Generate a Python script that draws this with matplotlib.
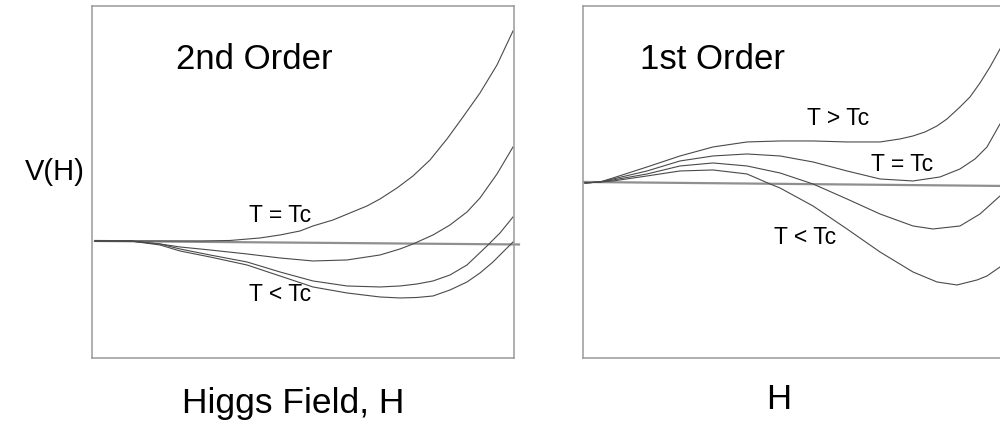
import matplotlib
matplotlib.use("Agg")
import matplotlib.pyplot as plt

plt.rcParams['font.family'] = ['Liberation Sans', 'DejaVu Sans']

# ---- 2nd order panel (H, V, arbitrary units) ----
h2_tc = [3, 58, 108, 138, 168, 188, 208, 221, 241, 275, 288, 305, 321, 338, 355, 371, 388, 405, 421]
v2_tc = [0, 0, 0, 0.5, 3, 6, 10, 15, 21, 35, 42, 53, 65, 81, 102, 124, 148, 176, 210]

h2_a = [3, 38, 68, 88, 118, 155, 188, 221, 255, 288, 308, 321, 341, 358, 375, 388, 405, 421]
v2_a = [0, 0, -3, -6, -9, -13, -17, -20, -19, -14, -8, -3, 6, 16, 29, 43, 67, 94]

h2_b = [3, 38, 68, 88, 118, 155, 188, 221, 255, 288, 308, 325, 341, 358, 375, 395, 408, 421]
v2_b = [0, 0, -3, -8, -14, -21, -31, -40, -45, -46, -45, -43, -40, -34, -24, -5, 8, 24]

h2_c = [3, 38, 68, 88, 118, 155, 188, 221, 255, 288, 308, 325, 341, 358, 375, 388, 401, 421]
v2_c = [0, 0, -4, -10, -16, -24, -35, -46, -52, -56, -57, -56.5, -55, -49, -41, -32, -21, -1]

h2_ref = [3, 427]
v2_ref = [0, -3.5]

# ---- 1st order panel ----
h1_gt = [2, 17, 30, 64, 97, 130, 164, 197, 230, 264, 297, 317, 330, 342, 354, 364, 377, 387, 397, 407, 417]
v1_gt = [0, 1, 5, 16, 27, 36, 41, 42, 42, 41, 41, 44, 47, 51, 57, 64, 76, 86, 100, 116, 134]

h1_tc = [2, 17, 30, 64, 97, 130, 164, 197, 230, 264, 297, 330, 357, 377, 392, 404, 417]
v1_tc = [0, 1, 4, 12, 22, 27, 29, 27, 21, 12, 4, 2, 6, 14, 24, 36, 59]

h1_a = [2, 17, 30, 64, 97, 130, 164, 197, 230, 264, 297, 330, 350, 377, 397, 417]
v1_a = [0, 1, 3, 9, 17, 20, 17, 10, -1, -16, -31, -43, -46, -43, -31, -13]

h1_b = [2, 17, 30, 64, 97, 130, 164, 187, 197, 230, 264, 297, 330, 354, 374, 394, 404, 417]
v1_b = [0, 1, 2, 7, 12, 13, 9, -1, -5, -23, -46, -69, -89, -99, -102, -97, -93, -84]

h1_ref = [0, 422]
v1_ref = [1, -3]

curve_color = '#4a4a4a'
ref_color = '#8f8f8f'
frame_color = '#9a9a9a'

fig = plt.figure(figsize=(10, 4.27), dpi=100)
ax_l = fig.add_axes([0.092, 0.1593, 0.422, 0.8244])
ax_r = fig.add_axes([0.583, 0.1593, 0.422, 0.8244])

for ax in (ax_l, ax_r):
    ax.set_xticks([])
    ax.set_yticks([])
    for s in ax.spines.values():
        s.set_color(frame_color)
        s.set_linewidth(1.1)

# left: 2nd order
ax_l.plot(h2_ref, v2_ref, color=ref_color, lw=1.6, clip_on=False)
for h, v in [(h2_tc, v2_tc), (h2_a, v2_a), (h2_b, v2_b), (h2_c, v2_c)]:
    ax_l.plot(h, v, color=curve_color, lw=0.8, solid_joinstyle='round')
ax_l.set_xlim(0, 422)
ax_l.set_ylim(-117, 235)
ax_l.text(162, 182, '2nd Order', fontsize=25, ha='center', va='center')
ax_l.text(188, 26, 'T = Tc', fontsize=16.5, ha='center', va='center')
ax_l.text(188, -53, 'T < Tc', fontsize=16.5, ha='center', va='center')

# right: 1st order
ax_r.plot(h1_ref, v1_ref, color=ref_color, lw=1.6)
for h, v in [(h1_gt, v1_gt), (h1_tc, v1_tc), (h1_a, v1_a), (h1_b, v1_b)]:
    ax_r.plot(h, v, color=curve_color, lw=0.8, solid_joinstyle='round')
ax_r.set_xlim(0, 422)
ax_r.set_ylim(-175, 177)
ax_r.text(129, 124, '1st Order', fontsize=25, ha='center', va='center')
ax_r.text(255, 65, 'T > Tc', fontsize=16.5, ha='center', va='center')
ax_r.text(319, 19, 'T = Tc', fontsize=16.5, ha='center', va='center')
ax_r.text(222, -54, 'T < Tc', fontsize=16.5, ha='center', va='center')

fig.text(0.055, 0.597, 'V(H)', fontsize=21, ha='center', va='center')
fig.text(0.293, 0.056, 'Higgs Field, H', fontsize=25.5, ha='center', va='center')
fig.text(0.779, 0.064, 'H', fontsize=25, ha='center', va='center')

fig.savefig('out.png', dpi=100)
